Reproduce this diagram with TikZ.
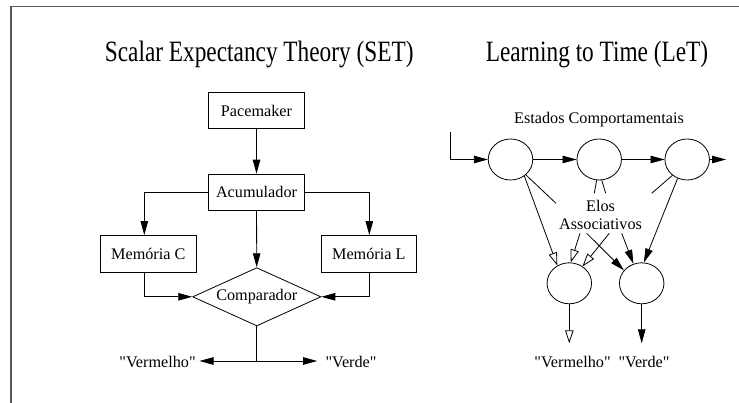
\documentclass[tikz,border=0pt]{standalone}
\usepackage{fontspec}
\setmainfont{Liberation Serif}
\usepackage{graphicx}
\usetikzlibrary{arrows.meta,shapes.geometric}
\newcommand\dq{\textquotedbl}

\begin{document}
\begin{tikzpicture}[x=1pt,y=-1pt,
  line width=0.8pt,
  every node/.style={font=\fontsize{16.2}{19.4}\selectfont, inner sep=0pt},
  box/.style={draw, minimum width=95.3pt, minimum height=36.5pt},
  decision/.style={draw, diamond, aspect=2.2, minimum width=128.3pt, minimum height=58.3pt},
  unit/.style={draw, ellipse, minimum width=44.5pt, minimum height=41pt},
  fa/.style={-{Triangle[length=14pt,width=7.5pt]}},
  oa/.style={-{Triangle[open,length=13pt,width=8.5pt]}},
  title/.style={font=\fontsize{29.5}{34}\selectfont},
  frame/.style={draw=black!65, line width=1.4pt}
]
\useasboundingbox (0,0) rectangle (739,403);
\fill[white] (0,0) rectangle (739,403);
\draw[frame] (739,6.7) -- (11,6.7) -- (11,403);

% headings
\node[title] (setT) at (259.2,54) {\scalebox{0.79}[1]{Scalar Expectancy Theory (SET)}};
\node[title] (letT) at (597,54) {\scalebox{0.79}[1]{Learning to Time (LeT)}};

% ---- SET: pacemaker / accumulator / memories / comparator ----
\node[box] (pace) at (256.5,110.5) {Pacemaker};
\node[box] (acc)  at (256.5,192.3) {Acumulador};
\node[box] (memC) at (148.3,253.7) {Memória C};
\node[box] (memL) at (368.8,253.7) {Memória L};
\node[decision] (comp) at (256.8,296.8) {Comparador};

\draw[fa] (pace) -- (acc);
\draw[fa] (acc.west) -| ([xshift=-4pt]memC.north);
\draw[fa] (acc.east) -| ([xshift=0.5pt]memL.north);
\draw[fa] (acc) -- (comp);
\draw[fa] ([xshift=-4pt]memC.south) |- (comp.west);
\draw[fa] ([xshift=0.5pt]memL.south) |- (comp.east);

\coordinate (split) at (256.8,361);
\node (vermL)  at (157.5,362) {\dq Vermelho\dq};
\node (verdeL) at (351,362) {\dq Verde\dq};
\draw (comp.south) -- (split);
\draw[fa,shorten >=3.5pt] (split) -- (vermL.east |- split);
\draw[fa,shorten >=8pt] (split) -- (verdeL.west |- split);

% ---- LeT: chain of behavioural states and two response units ----
\node (estados) at (599,120) {Estados Comportamentais};
\node[unit] (c1) at (510.5,159.5) {};
\node[unit] (c2) at (599.2,159.5) {};
\node[unit] (c3) at (687.2,159.5) {};
\node[unit] (c4) at (569.3,283.3) {};
\node[unit] (c5) at (641.7,283.3) {};
\node[align=center, font=\fontsize{16.2}{18.3}\selectfont] (elos) at (600.5,215) {Elos\\Associativos};

\coordinate (in)  at (450,131.7);
\coordinate (out) at (726,159.5);
\draw[fa] (in) |- (c1);
\draw[fa] (c1) -- (c2);
\draw[fa] (c2) -- (c3);
\draw[fa] (c3) -- (out);

% pointers from the states towards the label
\coordinate (p1)  at (556,203.3);
\coordinate (p2a) at (594.3,193.3);
\coordinate (p2b) at (605.7,193.3);
\coordinate (p3)  at (651.7,193.3);
\draw (c1.-45) -- (p1);
\draw (c2.-97) -- (p2a);
\draw (c2.-83) -- (p2b);
\draw (c3.-133) -- (p3);

% associative links
\coordinate (l1) at (580,233.3);
\coordinate (l2) at (609.3,233.3);
\coordinate (l3) at (586.7,233.3);
\coordinate (l4) at (621.7,233.3);
\draw[oa] (c1.-50) -- (c4.124);
\draw[oa] (l1) -- (c4.86);
\draw[oa] (l2) -- (c4.52);
\draw[fa] (l3) -- (c5.144);
\draw[fa] (l4) -- (c5.113);
\draw[fa] (c3.-117) -- (c5.84);

% responses
\coordinate (o4) at (569.3,343.3);
\coordinate (o5) at (641.7,343.3);
\draw[oa] (c4) -- (o4);
\draw[fa] (c5) -- (o5);
\node (vermR)  at (572.5,361.7) {\dq Vermelho\dq};
\node (verdeR) at (644,361.7) {\dq Verde\dq};
\end{tikzpicture}
\end{document}
